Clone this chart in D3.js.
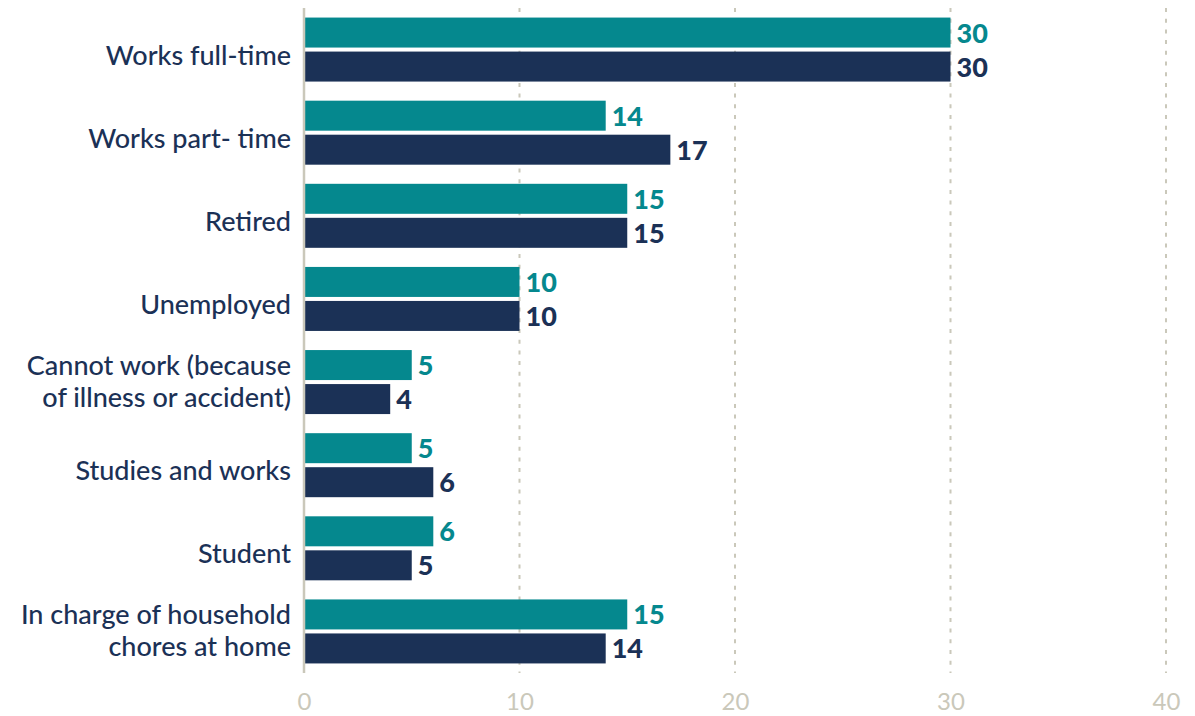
<!DOCTYPE html>
<html>
<head>
<meta charset="utf-8">
<script src="https://cdn.jsdelivr.net/npm/d3@7"></script>
<style>
  html, body { margin: 0; padding: 0; background: #ffffff; }
  svg { display: block; }
</style>
</head>
<body>
<svg id="chart" width="1195" height="716"></svg>
<script>
// Employment status, two series per category
const categories = [
  "Works full-time",
  "Works part- time",
  "Retired",
  "Unemployed",
  "Cannot work (because\nof illness or accident)",
  "Studies and works",
  "Student",
  "In charge of household\nchores at home"
];
const seriesNames = ["seriesA", "seriesB"];
const seriesA = [30, 14, 15, 10, 5, 5, 6, 15];
const seriesB = [30, 17, 15, 10, 4, 6, 5, 14];
const xTicks = [0, 10, 20, 30, 40];

const colors = { seriesA: "#05888e", seriesB: "#1b3156" };
const gridColor = "#cac8ba";
const labelColor = "#1b3156";
const fontFamily = "Lato, 'Noto Sans', sans-serif";

const svg = d3.select("#chart");
const margin = { left: 304, right: 29, top: 8, bottom: 43 };
const W = 1195, H = 716;

const x = d3.scaleLinear().domain([0, 40]).range([margin.left, W - margin.right]);
const y = d3.scaleBand().domain(categories).range([margin.top, H - margin.bottom])
  .paddingInner(0.23).paddingOuter(0.115);
const ySub = d3.scaleBand().domain(seriesNames).range([0, y.bandwidth()]).paddingInner(0.118);

const rows = categories.map((c, i) => ({ category: c, seriesA: seriesA[i], seriesB: seriesB[i] }));

// dashed vertical gridlines
svg.append("g").selectAll("line")
  .data(xTicks.filter(t => t !== 0))
  .join("line")
  .attr("x1", d => x(d)).attr("x2", d => x(d))
  .attr("y1", margin.top).attr("y2", H - margin.bottom)
  .attr("stroke", gridColor).attr("stroke-width", 2)
  .attr("stroke-dasharray", "4,6.7");

// bars
const groups = svg.append("g").selectAll("g")
  .data(rows)
  .join("g")
  .attr("transform", d => `translate(0,${y(d.category)})`);

groups.selectAll("rect")
  .data(d => seriesNames.map(k => ({ key: k, value: d[k] })))
  .join("rect")
  .attr("x", x(0))
  .attr("y", d => ySub(d.key))
  .attr("width", d => x(d.value) - x(0))
  .attr("height", ySub.bandwidth())
  .attr("fill", d => colors[d.key]);

// value labels
groups.selectAll("text.value")
  .data(d => seriesNames.map(k => ({ key: k, value: d[k] })))
  .join("text")
  .attr("class", "value")
  .attr("x", d => x(d.value) + 6)
  .attr("y", d => ySub(d.key) + ySub.bandwidth() / 2)
  .attr("dy", "0.37em")
  .attr("fill", d => colors[d.key])
  .attr("font-family", fontFamily)
  .attr("font-weight", 900)
  .attr("font-size", 27)
  .text(d => d.value);

// zero axis line
svg.append("line")
  .attr("x1", x(0)).attr("x2", x(0))
  .attr("y1", margin.top).attr("y2", H - margin.bottom)
  .attr("stroke", gridColor).attr("stroke-width", 2.5);

// category labels
const labelSize = 27;
const lineHeight = 31.7;
svg.append("g").selectAll("text")
  .data(categories)
  .join("text")
  .attr("text-anchor", "end")
  .attr("fill", labelColor)
  .attr("font-family", fontFamily)
  .attr("font-weight", 500)
  .attr("font-size", labelSize)
  .each(function(d) {
    const lines = d.split("\n");
    const t = d3.select(this);
    const cy = y(d) + y.bandwidth() / 2;
    const firstBaseline = cy + 15 - (lines.length - 1) * 22;
    lines.forEach((ln, i) => {
      t.append("tspan")
        .attr("x", x(0) - 13)
        .attr("y", firstBaseline + i * lineHeight)
        .text(ln);
    });
  });

// x axis tick labels
const xAxis = d3.axisBottom(x).tickValues(xTicks).tickSize(0).tickPadding(0);
const ax = svg.append("g")
  .attr("transform", `translate(0,${H - 23})`)
  .call(xAxis);
ax.select(".domain").remove();
ax.selectAll("text")
  .attr("dy", "0.71em")
  .attr("fill", gridColor)
  .attr("font-family", fontFamily)
  .attr("font-weight", 400)
  .attr("font-size", 24);
</script>
</body>
</html>
